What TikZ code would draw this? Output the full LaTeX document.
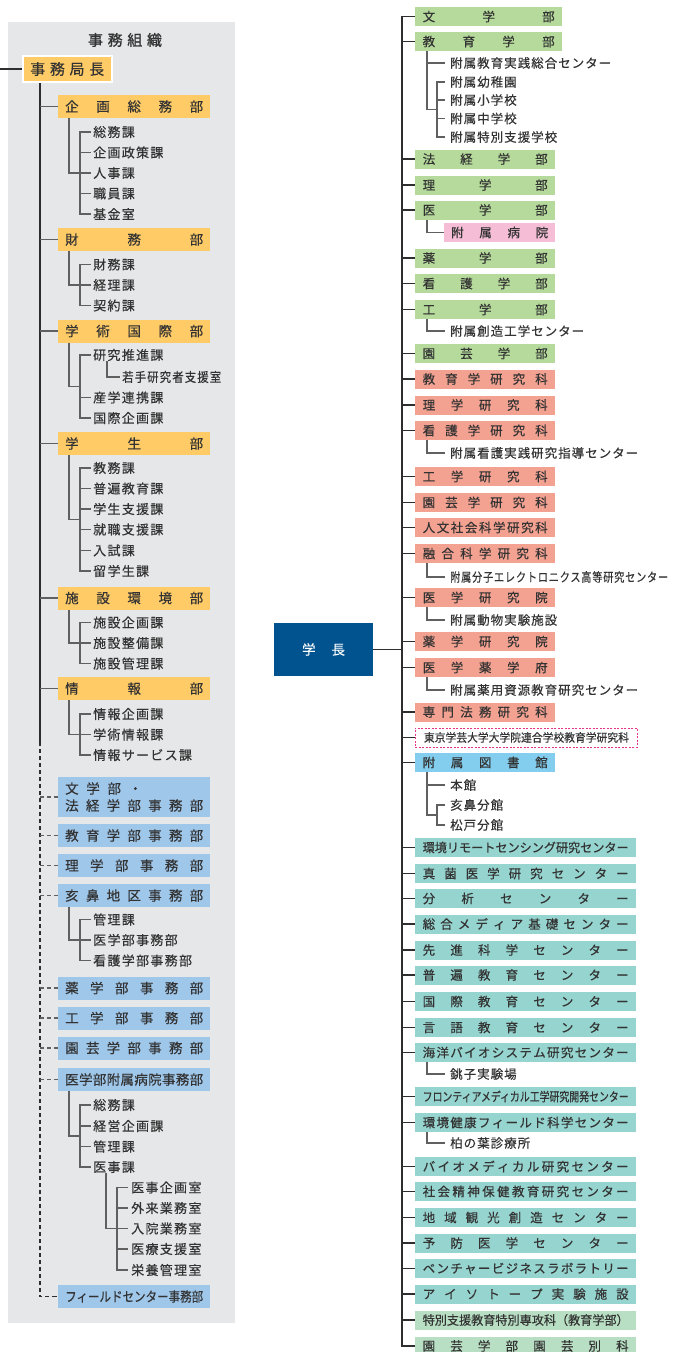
\documentclass[tikz,border=0pt]{standalone}
\usepackage{fontspec}
\setmainfont{Noto Sans CJK JP}[FakeBold=0.35]
\newfontfamily\titlefont{Noto Sans CJK JP}[FakeBold=1.2]
\newfontfamily\itemL{Noto Sans CJK JP}[LetterSpace=10,FakeBold=0.35]
\newfontfamily\itemR{Noto Sans CJK JP}[LetterSpace=8,FakeBold=0.35]
\usepackage{graphicx}
\usetikzlibrary{calc}
\newlength\fitlen
\def\spr#1{\sprA#1\relax}
\def\sprA#1#2{#1\ifx\relax#2\else\hfill\expandafter\sprA\expandafter#2\fi}
\newcommand\fitbox[2]{\settowidth\fitlen{#2}\ifdim\fitlen>#1\relax\resizebox{#1}{\height}{#2}\else\makebox[#1][s]{\spr{#2}}\fi}
\newcommand\squeeze[2]{\resizebox{#1}{\height}{#2}}
\definecolor{cgray}{HTML}{E6E7E8}
\definecolor{cyel}{HTML}{FFCB66}
\definecolor{clblue}{HTML}{9FC7EA}
\definecolor{cgreen}{HTML}{B5DA9B}
\definecolor{csalmon}{HTML}{F3A191}
\definecolor{cpink}{HTML}{F5BED6}
\definecolor{clib}{HTML}{83CDEE}
\definecolor{cteal}{HTML}{95D4CF}
\definecolor{cmint}{HTML}{B8DFC3}
\definecolor{cnavy}{HTML}{00538F}
\definecolor{cmag}{HTML}{E8338B}
\definecolor{txt}{HTML}{333333}
\definecolor{lnmain}{HTML}{2E2E2E}
\definecolor{lnbr}{HTML}{606060}
\newcommand\lbrk[4]{%
 \draw[brln] ([xshift=11pt]#1.south west) |- ($(#2.west)!.5!(#3.west)+(-13,0)$);
 \draw[brln] ([xshift=-2pt]#2.west) -- ([xshift=-13pt]#2.west) -- ([xshift=-13pt]#3.west) -- ([xshift=-2pt]#3.west);
 \foreach \n in {#4}{\draw[brln] ([xshift=-13pt]\n.west) -- ([xshift=-2pt]\n.west);}
}
\begin{document}
\begin{tikzpicture}[x=1pt,y=-1pt,
 every node/.style={text=txt},
 lbox/.style={anchor=west, inner xsep=7pt, inner ysep=0pt, minimum height=23pt, font=\fontsize{13.5}{17}\selectfont},
 ydept/.style={lbox, fill=cyel},
 bdept/.style={lbox, fill=clblue},
 litem/.style={anchor=west, inner sep=0pt, font=\itemL\fontsize{13}{15}\selectfont},
 rbox/.style={anchor=west, inner xsep=7.5pt, inner ysep=0pt, minimum height=19pt, font=\fontsize{12.5}{15}\selectfont},
 gbox/.style={rbox, fill=cgreen},
 sbox/.style={rbox, fill=csalmon},
 tbox/.style={rbox, fill=cteal},
 mbox/.style={rbox, fill=cmint},
 ritem/.style={anchor=west, inner sep=0pt, font=\itemR\fontsize{12.5}{15}\selectfont},
 mainln/.style={draw=lnmain, line width=1.2pt},
 brln/.style={draw=lnbr, line width=1.2pt},
 dashln/.style={mainln, dash pattern=on 4pt off 3pt},
]
\useasboundingbox (0,0) rectangle (684,1352);
\fill[cgray] (8,22) rectangle (235,1323);

% ---------------- left: 事務組織 ----------------
\node[font=\titlefont\fontsize{15}{17}\selectfont] (title) at (125,40) {\makebox[74pt][s]{\spr{事務組織}}};
\node[lbox, fill=cyel, draw=white, line width=1.5pt, inner xsep=7.5pt, minimum height=26pt, font=\fontsize{15}{17}\selectfont] (kyokucho) at (22,69) {\makebox[74pt][s]{\spr{事務局長}}};

\node[ydept] (kikaku) at (58,106.5) {\fitbox{138pt}{企画総務部}};
\node[litem] (s1) at (93,132) {総務課};
\node[litem] (s2) at (93,152.5) {企画政策課};
\node[litem] (s3) at (93,173) {人事課};
\node[litem] (s4) at (93,193.5) {職員課};
\node[litem] (s5) at (93,214) {基金室};

\node[ydept] (zaimu) at (58,239.5) {\fitbox{138pt}{財務部}};
\node[litem] (z1) at (93,264.5) {財務課};
\node[litem] (z2) at (93,285) {経理課};
\node[litem] (z3) at (93,305.5) {契約課};

\node[ydept] (gakujutsu) at (58,331) {\fitbox{138pt}{学術国際部}};
\node[litem] (g1) at (93,355) {研究推進課};
\node[litem] (g1a) at (122,377) {\squeeze{99pt}{若手研究者支援室}};
\node[litem] (g2) at (93,397.5) {産学連携課};
\node[litem] (g3) at (93,418) {国際企画課};

\node[ydept] (gakusei) at (58,443.5) {\fitbox{138pt}{学生部}};
\node[litem] (e1) at (93,468) {教務課};
\node[litem] (e2) at (93,488.5) {普遍教育課};
\node[litem] (e3) at (93,509) {学生支援課};
\node[litem] (e4) at (93,529.5) {就職支援課};
\node[litem] (e5) at (93,550.5) {入試課};
\node[litem] (e6) at (93,571) {留学生課};

\node[ydept] (shisetsu) at (58,598) {\fitbox{138pt}{施設環境部}};
\node[litem] (f1) at (93,622.5) {施設企画課};
\node[litem] (f2) at (93,643) {施設整備課};
\node[litem] (f3) at (93,663.5) {施設管理課};

\node[ydept] (joho) at (58,688.5) {\fitbox{138pt}{情報部}};
\node[litem] (j1) at (93,714) {情報企画課};
\node[litem] (j2) at (93,734.5) {学術情報課};
\node[litem] (j3) at (93,755) {情報サービス課};

\node[bdept, minimum height=40pt, align=left] (bunpo) at (58,797) {\makebox[138pt][l]{\makebox[77pt][s]{\spr{文学部・}}}\\\makebox[138pt][s]{\spr{法経学部事務部}}};
\node[bdept] (kyoikuj) at (58,835.5) {\fitbox{138pt}{教育学部事務部}};
\node[bdept] (rij) at (58,865.5) {\fitbox{138pt}{理学部事務部}};
\node[bdept] (inohana) at (58,895.5) {\fitbox{138pt}{亥鼻地区事務部}};
\node[litem] (h1) at (93,919.5) {管理課};
\node[litem] (h2) at (93,940) {医学部事務部};
\node[litem] (h3) at (93,960.5) {看護学部事務部};
\node[bdept] (yakuj) at (58,988) {\fitbox{138pt}{薬学部事務部}};
\node[bdept] (kouj) at (58,1018) {\fitbox{138pt}{工学部事務部}};
\node[bdept] (engeij) at (58,1048) {\fitbox{138pt}{園芸学部事務部}};
\node[bdept] (byoinj) at (58,1079.5) {\fitbox{138pt}{医学部附属病院事務部}};
\node[litem] (b1) at (93,1105) {総務課};
\node[litem] (b2) at (93,1126) {経営企画課};
\node[litem] (b3) at (93,1146.5) {管理課};
\node[litem] (b4) at (93,1167) {医事課};
\node[litem] (k1) at (131,1187.5) {医事企画室};
\node[litem] (k2) at (131,1208) {外来業務室};
\node[litem] (k3) at (131,1228.5) {入院業務室};
\node[litem] (k4) at (131,1249) {医療支援室};
\node[litem] (k5) at (131,1270) {栄養管理室};
\node[bdept] (fieldj) at (58,1296.5) {\fitbox{138pt}{フィールドセンター事務部}};

% left connectors
\coordinate (lin) at (0,69);
\coordinate (lx) at (40,742);
\draw[mainln] (lin) -- (kyokucho.west);
\draw[mainln] ([xshift=18pt]kyokucho.south west) -- (lx);
\draw[dashln] (lx) |- (fieldj.west);
\foreach \n in {kikaku,zaimu,gakujutsu,gakusei,shisetsu,joho} \draw[brln] (\n.west -| lx) -- (\n.west);
\foreach \n in {bunpo,kyoikuj,rij,inohana,yakuj,kouj,engeij,byoinj} \draw[brln,dash pattern=on 4pt off 3pt] (\n.west -| lx) -- (\n.west);
\lbrk{kikaku}{s1}{s5}{s2,s3,s4}
\lbrk{zaimu}{z1}{z3}{z2}
\lbrk{gakujutsu}{g1}{g3}{g2}
\draw[brln] ([xshift=14pt]g1.south west) |- ([xshift=-2pt]g1a.west);
\lbrk{gakusei}{e1}{e6}{e2,e3,e4,e5}
\lbrk{shisetsu}{f1}{f3}{f2}
\lbrk{joho}{j1}{j3}{j2}
\lbrk{inohana}{h1}{h3}{h2}
\lbrk{byoinj}{b1}{b4}{b2,b3}
\draw[brln] ([xshift=13pt]b4.south west) |- ($(k1.west)!.5!(k5.west)+(-14,0)$);
\draw[brln] ([xshift=-3pt]k1.west) -- ([xshift=-14pt]k1.west) -- ([xshift=-14pt]k5.west) -- ([xshift=-3pt]k5.west);
\foreach \n in {k2,k3,k4} \draw[brln] ([xshift=-14pt]\n.west) -- ([xshift=-3pt]\n.west);

% ---------------- 学長 ----------------
\node[fill=cnavy, text=white, minimum width=99pt, minimum height=53pt, inner sep=0pt, font=\fontsize{13.5}{15}\selectfont] (gakucho) at (323.5,649.5) {\makebox[43pt][s]{学\hfill 長}};

% ---------------- right ----------------
\node[gbox] (bun) at (415,16.5) {\fitbox{132pt}{文学部}};
\node[gbox] (kyoiku) at (415,41.5) {\fitbox{132pt}{教育学部}};
\node[ritem] (ki1) at (450,63) {附属教育実践総合センター};
\node[ritem] (ki2) at (450,82) {附属幼稚園};
\node[ritem] (ki3) at (450,100) {附属小学校};
\node[ritem] (ki4) at (450,118.5) {附属中学校};
\node[ritem] (ki5) at (450,137) {附属特別支援学校};
\node[gbox] (hokei) at (415,159) {\fitbox{125pt}{法経学部}};
\node[gbox] (ri) at (415,185) {\fitbox{125pt}{理学部}};
\node[gbox] (igaku) at (415,210) {\fitbox{125pt}{医学部}};
\node[rbox, fill=cpink, inner xsep=7pt] (byoin) at (444,232.5) {\fitbox{97pt}{附属病院}};
\node[gbox] (yaku) at (415,258) {\fitbox{125pt}{薬学部}};
\node[gbox] (kango) at (415,283.5) {\fitbox{125pt}{看護学部}};
\node[gbox] (kogaku) at (415,309.5) {\fitbox{125pt}{工学部}};
\node[ritem] (sozo) at (450,331) {附属創造工学センター};
\node[gbox] (engei) at (415,353.5) {\fitbox{125pt}{園芸学部}};
\node[sbox] (kyoikuken) at (415,379) {\fitbox{125pt}{教育学研究科}};
\node[sbox] (riken) at (415,405) {\fitbox{125pt}{理学研究科}};
\node[sbox] (kangoken) at (415,430.5) {\fitbox{125pt}{看護学研究科}};
\node[ritem] (kjissen) at (450,453) {附属看護実践研究指導センター};
\node[sbox] (koken) at (415,476.5) {\fitbox{125pt}{工学研究科}};
\node[sbox] (engeiken) at (415,502.5) {\fitbox{125pt}{園芸学研究科}};
\node[sbox] (jinbun) at (415,527.5) {\fitbox{125pt}{人文社会科学研究科}};
\node[sbox] (yugo) at (415,553.5) {\fitbox{125pt}{融合科学研究科}};
\node[ritem] (bunshi) at (450,577) {\squeeze{218pt}{附属分子エレクトロニクス高等研究センター}};
\node[sbox] (igakuin) at (415,597.5) {\fitbox{125pt}{医学研究院}};
\node[ritem] (dobutsu) at (450,620) {附属動物実験施設};
\node[sbox] (yakuin) at (415,641.5) {\fitbox{125pt}{薬学研究院}};
\node[sbox] (iyaku) at (415,667.5) {\fitbox{125pt}{医学薬学府}};
\node[ritem] (yakuyo) at (450,690) {附属薬用資源教育研究センター};
\node[sbox] (homu) at (415,712) {\fitbox{125pt}{専門法務研究科}};
\node[rbox, draw=cmag, fill=white, dash pattern=on 2pt off 1.5pt, line width=0.9pt, inner xsep=8.5pt, font=\fontsize{11.4}{14}\selectfont] (gakugei) at (415,737.5) {\fitbox{205pt}{東京学芸大学大学院連合学校教育学研究科}};
\node[rbox, fill=clib] (toshokan) at (415,762.5) {\fitbox{125pt}{附属図書館}};
\node[ritem] (honkan) at (450,785) {本館};
\node[ritem] (inobun) at (450,805) {亥鼻分館};
\node[ritem] (matsudo) at (450,825) {松戸分館};
\node[tbox] (t1) at (415,847.5) {\fitbox{206pt}{環境リモートセンシング研究センター}};
\node[tbox] (t2) at (415,873.5) {\fitbox{206pt}{真菌医学研究センター}};
\node[tbox] (t3) at (415,898.5) {\fitbox{206pt}{分析センター}};
\node[tbox] (t4) at (415,924) {\fitbox{206pt}{総合メディア基礎センター}};
\node[tbox] (t5) at (415,950) {\fitbox{206pt}{先進科学センター}};
\node[tbox] (t6) at (415,975) {\fitbox{206pt}{普遍教育センター}};
\node[tbox] (t7) at (415,1001.5) {\fitbox{206pt}{国際教育センター}};
\node[tbox] (t8) at (415,1027.5) {\fitbox{206pt}{言語教育センター}};
\node[tbox] (t9) at (415,1052.5) {\fitbox{206pt}{海洋バイオシステム研究センター}};
\node[ritem] (choshi) at (450,1074) {銚子実験場};
\node[tbox] (t10) at (415,1096.5) {\fitbox{206pt}{フロンティアメディカル工学研究開発センター}};
\node[tbox] (t11) at (415,1122.5) {\fitbox{206pt}{環境健康フィールド科学センター}};
\node[ritem] (kashiwa) at (450,1143) {柏の葉診療所};
\node[tbox] (t12) at (415,1166.5) {\fitbox{206pt}{バイオメディカル研究センター}};
\node[tbox] (t13) at (415,1191.5) {\fitbox{206pt}{社会精神保健教育研究センター}};
\node[tbox] (t14) at (415,1217.5) {\fitbox{206pt}{地域観光創造センター}};
\node[tbox] (t15) at (415,1243) {\fitbox{206pt}{予防医学センター}};
\node[tbox] (t16) at (415,1268.5) {\fitbox{206pt}{ベンチャービジネスラボラトリー}};
\node[tbox] (t17) at (415,1294) {\fitbox{206pt}{アイソトープ実験施設}};
\node[mbox] (tokusen) at (415,1320) {\fitbox{206pt}{特別支援教育特別専攻科（教育学部）}};
\node[mbox] (bekka) at (415,1346) {\fitbox{206pt}{園芸学部園芸別科}};

% right connectors
\coordinate (rx) at (402,0);
\draw[mainln] (bun.west) -- (bun.west -| rx) -- (bekka.west -| rx) -- (bekka.west);
\draw[mainln] (gakucho.east) -- (gakucho.east -| rx);
\foreach \n in {kyoiku,hokei,ri,igaku,yaku,kango,kogaku,engei,kyoikuken,riken,kangoken,koken,engeiken,jinbun,yugo,igakuin,yakuin,iyaku,homu,gakugei,toshokan,t1,t2,t3,t4,t5,t6,t7,t8,t9,t10,t11,t12,t13,t14,t15,t16,t17,tokusen}
  \draw[mainln] (\n.west -| rx) -- (\n.west);
\draw[brln] ([xshift=12pt]kyoiku.south west) |- ($(ki2.west)!.5!(ki5.west)+(-13,0)$);
\draw[brln] ([xshift=-23pt]ki1.west) -- ([xshift=-5pt]ki1.west);
\draw[brln] ([xshift=-5pt]ki2.west) -- ([xshift=-13pt]ki2.west) -- ([xshift=-13pt]ki5.west) -- ([xshift=-5pt]ki5.west);
\foreach \n in {ki3,ki4} \draw[brln] ([xshift=-13pt]\n.west) -- ([xshift=-5pt]\n.west);
\draw[brln] ([xshift=12pt]igaku.south west) |- (byoin.west);
\draw[brln] ([xshift=12pt]kogaku.south west) |- ([xshift=-5pt]sozo.west);
\draw[brln] ([xshift=12pt]kangoken.south west) |- ([xshift=-5pt]kjissen.west);
\draw[brln] ([xshift=12pt]yugo.south west) |- ([xshift=-5pt]bunshi.west);
\draw[brln] ([xshift=12pt]igakuin.south west) |- ([xshift=-5pt]dobutsu.west);
\draw[brln] ([xshift=12pt]iyaku.south west) |- ([xshift=-5pt]yakuyo.west);
\draw[brln] ([xshift=12pt]toshokan.south west) |- ($(inobun.west)!.5!(matsudo.west)+(-13,0)$);
\draw[brln] ([xshift=-23pt]honkan.west) -- ([xshift=-5pt]honkan.west);
\draw[brln] ([xshift=-5pt]inobun.west) -- ([xshift=-13pt]inobun.west) -- ([xshift=-13pt]matsudo.west) -- ([xshift=-5pt]matsudo.west);
\draw[brln] ([xshift=12pt]t9.south west) |- ([xshift=-5pt]choshi.west);
\draw[brln] ([xshift=12pt]t11.south west) |- ([xshift=-5pt]kashiwa.west);
\end{tikzpicture}
\end{document}
